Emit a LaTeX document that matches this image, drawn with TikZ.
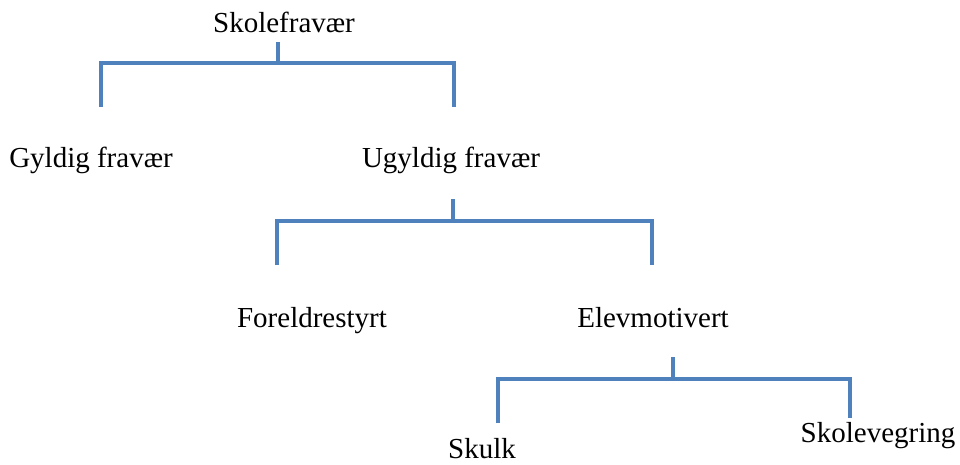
\documentclass[tikz,border=0pt]{standalone}
\usepackage{fontspec}
\setmainfont{Liberation Serif}
\definecolor{brblue}{HTML}{4F81BD}
\tikzset{
  lbl/.style={anchor=base, inner sep=0pt, font=\fontsize{29}{31}\selectfont, text=black},
  brk/.style={draw=brblue, line width=4pt},
  shadowline/.style={draw=black!18, line width=4pt}
}
\begin{document}
\begin{tikzpicture}[x=1pt,y=-1pt]
\useasboundingbox (0,0) rectangle (960,464);
% texts
\node[lbl] (skole) at (284,32) {Skolefravær};
\node[lbl] (gyldig) at (91,167) {Gyldig fravær};
\node[lbl] (ugyldig) at (451,167) {Ugyldig fravær};
\node[lbl] (foreldre) at (312,327) {Foreldrestyrt};
\node[lbl] (elev) at (653,327) {Elevmotivert};
\node[lbl] (skulk) at (482,458) {Skulk};
\node[lbl] (vegring) at (878,442) {Skolevegring};
% bracket coordinates
\coordinate (s1t) at (278,42);
\coordinate (h1) at (278,63);
\coordinate (l1b) at (101,107);
\coordinate (r1b) at (454,107);
\coordinate (s2t) at (453,199);
\coordinate (h2) at (453,221);
\coordinate (l2b) at (277,265);
\coordinate (r2b) at (652,265);
\coordinate (s3t) at (673,357);
\coordinate (h3) at (673,379);
\coordinate (l3b) at (498,423);
\coordinate (r3b) at (850,418);
% faint shadows
\begin{scope}[shift={(1.5,2)}]
\draw[shadowline] (l1b) |- (h1) -| (r1b);
\draw[shadowline] (l2b) |- (h2) -| (r2b);
\draw[shadowline] (l3b) |- (h3) -| (r3b);
\end{scope}
% brackets
\draw[brk] (l1b) |- (h1) -| (r1b);
\draw[brk] (s1t) -- (h1);
\draw[brk] (l2b) |- (h2) -| (r2b);
\draw[brk] (s2t) -- (h2);
\draw[brk] (l3b) |- (h3) -| (r3b);
\draw[brk] (s3t) -- (h3);
\end{tikzpicture}
\end{document}
